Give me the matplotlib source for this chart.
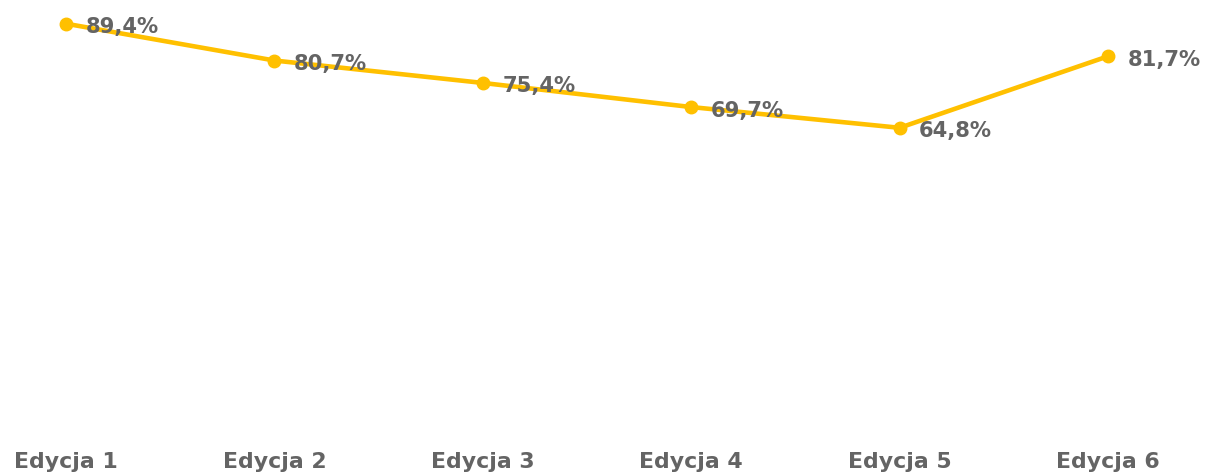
import matplotlib
matplotlib.use("Agg")
import matplotlib.pyplot as plt

categories = ["Edycja 1", "Edycja 2", "Edycja 3", "Edycja 4", "Edycja 5", "Edycja 6"]
values = [89.4, 80.7, 75.4, 69.7, 64.8, 81.7]
value_labels = ["89,4%", "80,7%", "75,4%", "69,7%", "64,8%", "81,7%"]

LINE = "#FFC000"
TEXT = "#646464"

plt.rcParams["font.family"] = ["DejaVu Sans"]

fig = plt.figure(figsize=(12.07, 4.75), dpi=100)
# axes: left edge at pixel 0, right at 1207; bottom (value 0) at y=402 px
ax = fig.add_axes([0, 73 / 475, 1, 402 / 475])

x = list(range(len(categories)))
ax.plot(x, values, color=LINE, lw=3.3, marker="o", ms=9, solid_capstyle="round", zorder=3)

for xi, v, lab in zip(x, values, value_labels):
    ax.annotate(lab, (xi, v), xytext=(14, -2.5), textcoords="offset points",
                ha="left", va="center", fontsize=15.2, fontweight="bold", color=TEXT)

ax.set_xlim(-66 / 208.4, (1207 - 66) / 208.4)
ax.set_ylim(0, 95)
ax.set_xticks(x)
ax.set_xticklabels(categories, fontsize=15.8, fontweight="bold", color=TEXT)
ax.tick_params(axis="x", length=0, pad=36)
ax.set_yticks([])
for s in ax.spines.values():
    s.set_visible(False)

fig.savefig("out.png", dpi=100)
